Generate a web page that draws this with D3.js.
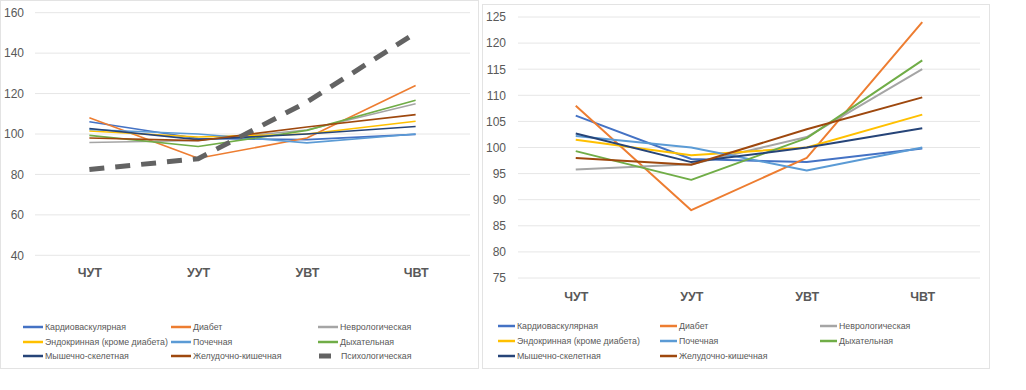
<!DOCTYPE html>
<html><head><meta charset="utf-8">
<script src="https://cdn.jsdelivr.net/npm/d3@7"></script>
<style>
body{margin:0;background:#fff;}
text{font-family:"Liberation Sans","DejaVu Sans",sans-serif;}
</style></head>
<body>
<svg id="c" width="1026" height="390"></svg>
<script>
const categories = ["ЧУТ","УУТ","УВТ","ЧВТ"];
const seriesNames = ["Кардиоваскулярная","Диабет","Неврологическая","Эндокринная (кроме диабета)","Почечная","Дыхательная","Мышечно-скелетная","Желудочно-кишечная","Психологическая"];
const seriesColors = ["#4472C4","#ED7D31","#A5A5A5","#FFC000","#5B9BD5","#70AD47","#264478","#9E480E","#636363"];
const cardio = [106.1, 97.8, 97.2, 99.8];
const diabetes = [108.0, 88.0, 98.0, 124.0];
const neuro = [95.8, 96.8, 102.0, 115.0];
const endocrine = [101.5, 98.5, 100.0, 106.3];
const renal = [102.2, 100.0, 95.6, 100.0];
const respiratory = [99.3, 93.8, 101.8, 116.7];
const musculo = [102.7, 97.2, 100.0, 103.7];
const gastro = [98.0, 96.7, 103.5, 109.6];
const psych = [82.4, 87.8, 115.8, 150.0];
const leftTicks = [40,60,80,100,120,140,160];
const rightTicks = [75,80,85,90,95,100,105,110,115,120,125];

const allSeries = [cardio,diabetes,neuro,endocrine,renal,respiratory,musculo,gastro,psych];
const svg = d3.select("#c");

function panel(cfg){
  const g = svg.append("g");
  g.append("rect").attr("x",cfg.box[0]).attr("y",cfg.box[1]).attr("width",cfg.box[2]).attr("height",cfg.box[3])
    .attr("fill","#fff").attr("stroke","#e3e3e3").attr("stroke-width",1);
  const x = d3.scalePoint().domain(categories).range(cfg.xr).padding(0.5);
  const y = d3.scaleLinear().domain(cfg.yd).range(cfg.yr);
  g.append("g").selectAll("line").data(cfg.ticks).join("line")
    .attr("x1",cfg.xr[0]).attr("x2",cfg.xr[1]).attr("y1",d=>y(d)).attr("y2",d=>y(d))
    .attr("stroke","#e6e6e6").attr("stroke-width",1);
  const ya = d3.axisLeft(y).tickValues(cfg.ticks).tickSize(0).tickPadding(cfg.tickPad);
  const yg = g.append("g").attr("transform",`translate(${cfg.xr[0]},0)`).call(ya);
  yg.select(".domain").remove();
  yg.selectAll("text").attr("fill","#595959").style("font-size","12px");
  const xa = d3.axisBottom(x).tickSize(0).tickPadding(0);
  const xg = g.append("g").attr("transform",`translate(0,${cfg.catY})`).call(xa);
  xg.select(".domain").remove();
  xg.selectAll("text").attr("fill","#595959").style("font-size","12.5px").style("font-weight","bold");
  const line = d3.line().x((d,i)=>x(categories[i])).y(d=>y(d));
  cfg.series.forEach(si=>{
    const isPsy = si===8;
    g.append("path").attr("d",line(allSeries[si])).attr("fill","none")
      .attr("stroke",seriesColors[si])
      .attr("stroke-width",isPsy?5:cfg.lw)
      .attr("stroke-dasharray",isPsy?"15,11":null)
      .attr("stroke-linejoin","round");
  });
  const lg = g.append("g");
  cfg.series.forEach((si,k)=>{
    const col = k%3, row = Math.floor(k/3);
    const lx = cfg.legCols[col], ly = cfg.legRows[row];
    const isPsy = si===8;
    if(isPsy){
      lg.append("line").attr("x1",lx+1).attr("x2",lx+13).attr("y1",ly).attr("y2",ly)
        .attr("stroke",seriesColors[si]).attr("stroke-width",5);
    } else {
      lg.append("line").attr("x1",lx).attr("x2",lx+cfg.legLen).attr("y1",ly).attr("y2",ly)
        .attr("stroke",seriesColors[si]).attr("stroke-width",2.5);
    }
    lg.append("text").attr("x",lx+cfg.legLen+(isPsy?3:2)).attr("y",ly).attr("dy","0.35em")
      .attr("fill","#595959").style("font-size","8.8px").text(seriesNames[si]);
  });
}

panel({box:[0.5,0.5,478,368], xr:[35,470], yd:[40,160], yr:[255.3,12.7], ticks:leftTicks, tickPad:11,
  catY:268, series:[0,1,2,3,4,5,6,7,8], lw:1.6,
  legCols:[23,171,318], legRows:[327,342,356], legLen:20});
panel({box:[482.5,4.5,507,364], xr:[518,980], yd:[75,125], yr:[278,17], ticks:rightTicks, tickPad:12,
  catY:292, series:[0,1,2,3,4,5,6,7], lw:2,
  legCols:[498,660,820], legRows:[326,341,356], legLen:17});
</script>
</body></html>
